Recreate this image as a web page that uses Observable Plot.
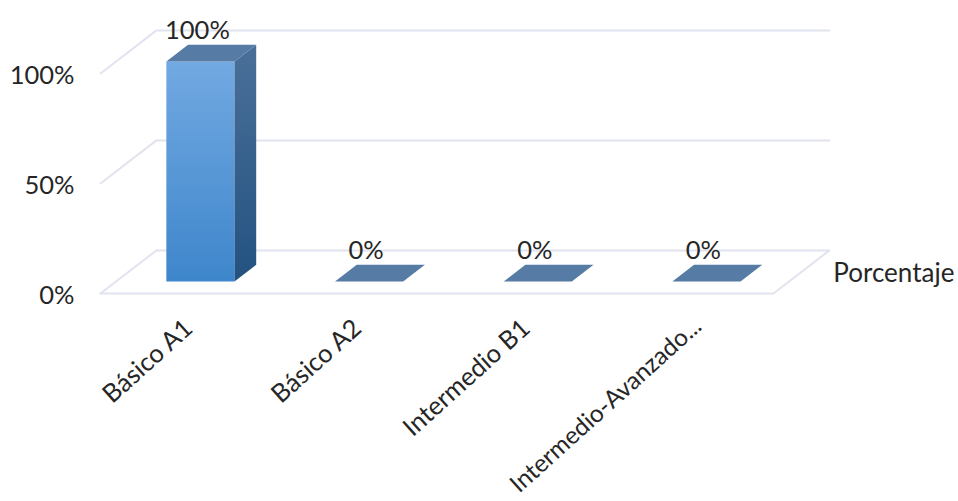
<!DOCTYPE html>
<html lang="es">
<head>
<meta charset="utf-8">
<script src="https://cdn.jsdelivr.net/npm/d3@7"></script>
<script src="https://cdn.jsdelivr.net/npm/@observablehq/plot@0.6"></script>
<style>
  html, body { margin: 0; padding: 0; background: #fff; }
  svg { display: block; }
</style>
</head>
<body>
<div id="chart"></div>
<script>
const categories = ["Básico A1", "Básico A2", "Intermedio B1", "Intermedio-Avanzado..."];
const porcentaje = [100, 0, 0, 0];
const yTicks = [0, 50, 100];
const seriesName = "Porcentaje";

// Oblique projection: a point on the floor at depth d (0 = front, 1 = back)
// is sheared along both data axes.
const shearX = 0.33;     // category units at full depth
const shearY = 19.5;     // percentage points at full depth
const barHalf = 0.202;   // half of a bar's width, in category units
const depthFront = 0.28; // depth of a bar's front face
const depthBack = 0.67;  // depth of a bar's back face
const xMin = -0.5;
const xMax = categories.length - 0.51;

const project = (x, v, d) => ({x: x + d * shearX, y: v + d * shearY});
const outline = (corners) => [...corners, corners[0]].map(([x, v, d]) => project(x, v, d));

// One closed outline per face, keyed by its bar
const faces = (corners) =>
  porcentaje.flatMap((v, i) => outline(corners(i, v)).map((p) => ({...p, bar: categories[i], v})));

const frontFaces = faces((i, v) => [
  [i - barHalf, 0, depthFront], [i + barHalf, 0, depthFront],
  [i + barHalf, v, depthFront], [i - barHalf, v, depthFront]
]).filter((p) => p.v > 0);
const sideFaces = faces((i, v) => [
  [i + barHalf, 0, depthFront], [i + barHalf, 0, depthBack],
  [i + barHalf, v, depthBack], [i + barHalf, v, depthFront]
]).filter((p) => p.v > 0);
const topFaces = faces((i, v) => [
  [i - barHalf, v, depthFront], [i + barHalf, v, depthFront],
  [i + barHalf, v, depthBack], [i - barHalf, v, depthBack]
]);

// Gridlines run along the left wall and the back wall; the floor is closed all round.
const grid = yTicks.flatMap((t) => [
  {...project(xMin, t, 0), t},
  {...project(xMin, t, 1), t},
  {...project(xMax, t, 1), t}
]);
const floorEdge = [
  project(xMin, 0, 0), project(xMax, 0, 0), project(xMax, 0, 1)
];

const gradient = (id, top, bottom) => `
  <linearGradient id="${id}" x1="0" y1="0" x2="0" y2="1">
    <stop offset="0" stop-color="${top}"/><stop offset="1" stop-color="${bottom}"/>
  </linearGradient>`;
const defs = () => {
  const g = d3.create("svg:g");
  g.html(`<defs>${gradient("frontFace", "#72a9e2", "#3e86cb")}${gradient("sideFace", "#4a7099", "#235281")}</defs>`);
  return g.node();
};

const gridColor = "#e1e4ee";
const font = "Lato, 'Open Sans', sans-serif";
const textColor = "#262626";
const labelSize = 25.5;

const chart = Plot.plot({
  width: 958,
  height: 501,
  marginLeft: 0, marginRight: 0, marginTop: 0, marginBottom: 0,
  style: {background: "#fff", fontFamily: font, overflow: "hidden"},
  x: {domain: [xMin, xMax], range: [100, 773], axis: null},
  y: {domain: [0, 100], range: [293, 73], axis: null},
  marks: [
    defs,
    Plot.line(grid, {x: "x", y: "y", z: "t", stroke: gridColor, strokeWidth: 2}),
    Plot.line(floorEdge, {x: "x", y: "y", stroke: gridColor, strokeWidth: 2}),
    Plot.line(frontFaces, {x: "x", y: "y", z: "bar", stroke: "none", fill: "url(#frontFace)"}),
    Plot.line(sideFaces, {x: "x", y: "y", z: "bar", stroke: "none", fill: "url(#sideFace)"}),
    Plot.line(topFaces, {x: "x", y: "y", z: "bar", stroke: "none", fill: "#567ba4"}),
    // Value labels above each bar
    Plot.text(porcentaje, {
      x: (v, i) => project(i, v, depthFront).x,
      y: (v, i) => project(i, v, depthFront).y,
      text: (v) => `${v}%`,
      dy: -31, dx: -3,
      fontSize: labelSize, fill: textColor
    }),
    // Value axis labels on the front edge of the left wall
    Plot.text(yTicks, {
      x: xMin, y: (t) => t, text: (t) => `${t}%`,
      dx: -26, dy: 2, textAnchor: "end",
      fontSize: labelSize, fill: textColor
    }),
    // Slanted category labels; the longest is set a little smaller to stay on the page
    Plot.text(categories.slice(0, -1), {
      x: (c, i) => i, y: 0, text: (c) => c,
      dx: 4, dy: 31, rotate: -42, textAnchor: "end",
      fontSize: labelSize, fill: textColor
    }),
    Plot.text(categories.slice(-1), {
      x: categories.length - 1, y: 0, text: (c) => c,
      dx: 7, dy: 29, rotate: -42, textAnchor: "end",
      fontSize: 24.4, fill: textColor
    }),
    // Series name at the floor's right edge
    Plot.text([seriesName], {
      x: project(xMax, 0, 0.5).x, y: project(xMax, 0, 0.5).y, text: (d) => d,
      dx: 32, dy: 2, textAnchor: "start",
      fontSize: 26, fill: textColor
    })
  ]
});
document.getElementById("chart").appendChild(chart);
</script>
</body>
</html>
